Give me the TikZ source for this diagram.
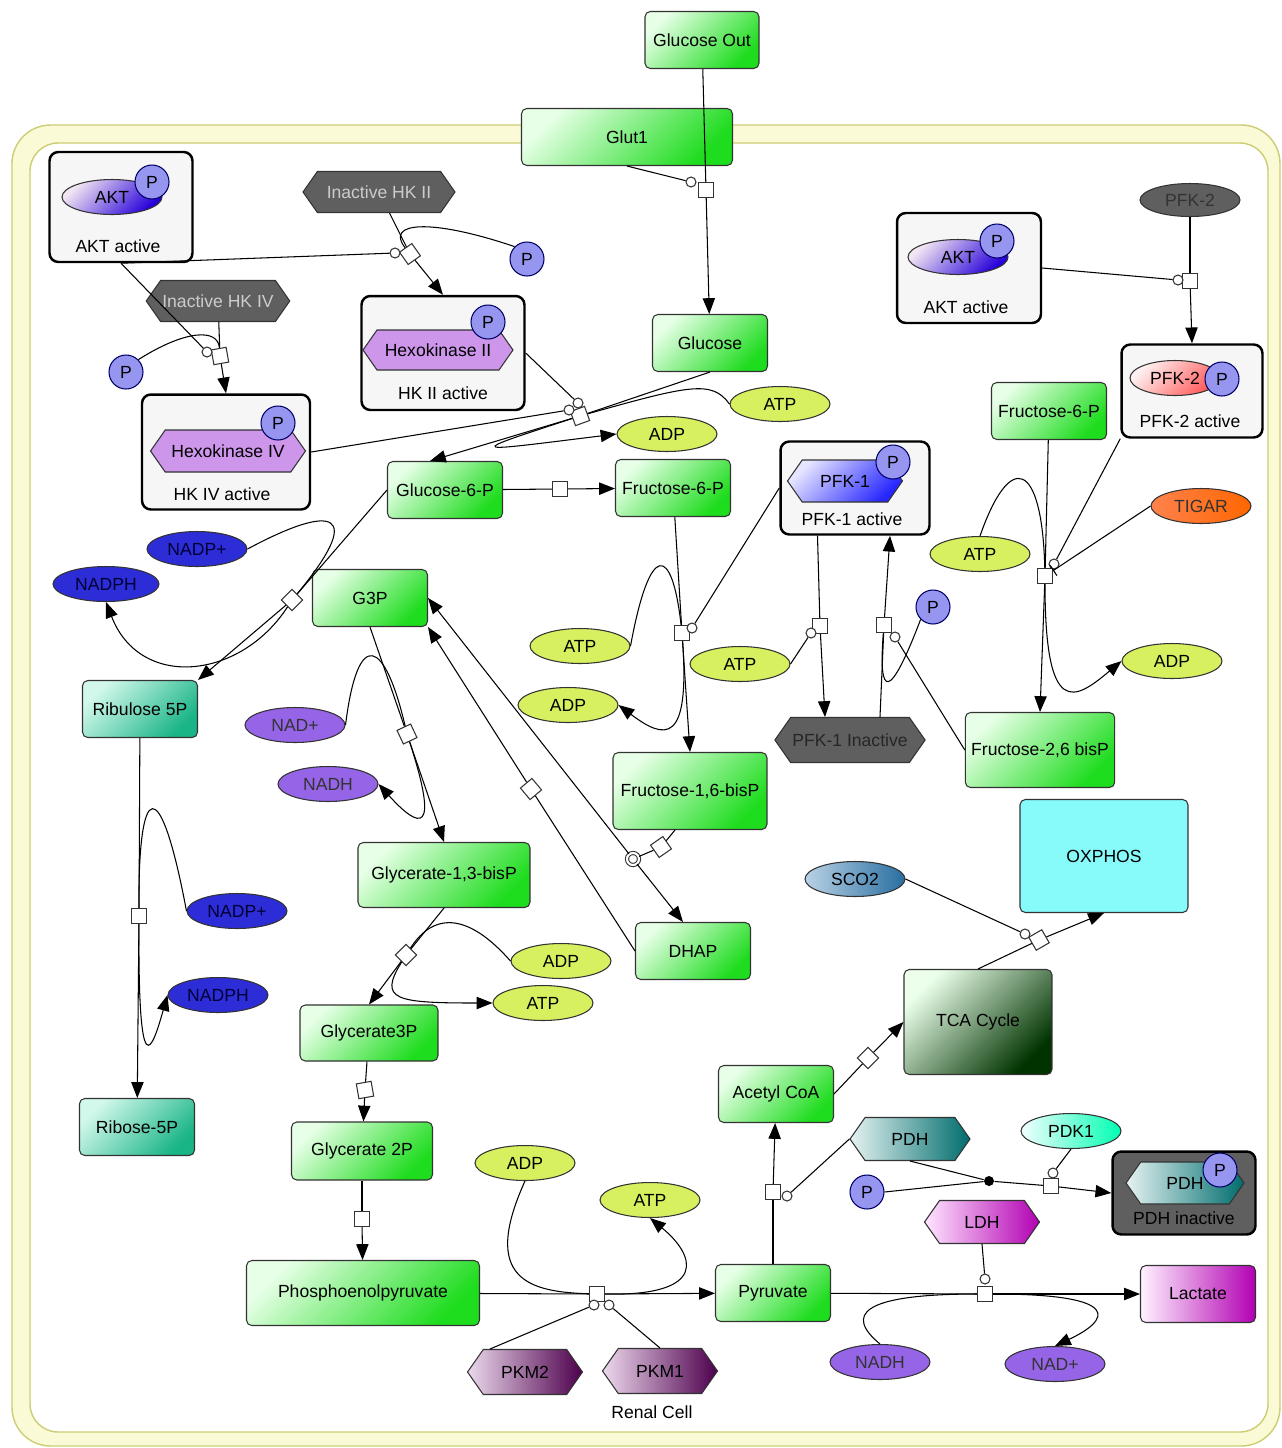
\documentclass[tikz,border=0pt]{standalone}
\usepackage{fontspec}
\setmainfont{Liberation Sans}
\usetikzlibrary{shapes.geometric,shapes.symbols,arrows.meta}

\definecolor{memline}{RGB}{205,205,115}
\definecolor{memfill}{RGB}{250,250,215}
\definecolor{glight}{RGB}{230,255,230}
\definecolor{gdark}{RGB}{30,220,30}
\definecolor{tlight}{RGB}{210,248,235}
\definecolor{tdark}{RGB}{25,180,135}
\definecolor{atpcol}{RGB}{215,240,95}
\definecolor{nadpcol}{RGB}{45,45,215}
\definecolor{nadcol}{RGB}{150,100,230}
\definecolor{pcol}{RGB}{150,150,240}
\definecolor{hkcol}{RGB}{205,150,235}
\definecolor{inact}{RGB}{95,95,95}
\definecolor{cplxcol}{RGB}{246,246,246}
\definecolor{oxcol}{RGB}{135,250,250}
\definecolor{scolight}{RGB}{185,210,230}
\definecolor{scodark}{RGB}{40,110,160}

\tikzset{
  metab/.style={draw=black!80, line width=0.6pt, rounded corners=3pt,
    minimum width=2.3cm, minimum height=1.14cm,
    left color=glight, right color=gdark, shading angle=45},
  tealbox/.style={metab, left color=tlight, right color=tdark, shading angle=45},
  cofac/.style={ellipse, draw=black!80, line width=0.6pt,
    minimum width=2cm, minimum height=0.7cm, inner sep=1pt},
  atpell/.style={cofac, fill=atpcol},
  nadpell/.style={cofac, fill=nadpcol, text=blue!20!black},
  nadell/.style={cofac, fill=nadcol, text=black!80},
  phos/.style={circle, draw=blue!40!black, line width=0.6pt, fill=pcol,
    minimum size=0.68cm, inner sep=0pt},
  rxn/.style={draw=black!80, line width=0.6pt, fill=white, minimum size=0.3cm, inner sep=0pt},
  modc/.style={circle, draw=black!80, line width=0.6pt, fill=white, minimum size=0.2cm, inner sep=0pt},
  cplx/.style={draw, line width=1.4pt, rounded corners=5pt, fill=cplxcol},
  hexa/.style={signal, signal to=west and east, signal pointer angle=110,
    draw=black!80, line width=0.6pt, inner sep=1pt},
  inacthex/.style={hexa, fill=inact, minimum height=0.82cm},
  conv/.style={-{Triangle[length=9pt,width=7pt]}},
  inhib/.style={-{Bar[width=7pt]}},
}

\begin{document}
\begin{tikzpicture}[x=0.02cm, y=-0.02cm, line width=0.6pt,
    font=\fontsize{10}{12}\selectfont]
\useasboundingbox (0,0) rectangle (1282,1448);

% cell membrane
\draw[memline, line width=0.8pt, fill=memfill, rounded corners=22pt] (12,125) rectangle (1280,1446);
\draw[memline, line width=0.8pt, fill=white, rounded corners=16pt] (30,143) rectangle (1268,1432);
\node (cell) at (652,1412) {Renal Cell};

% glucose uptake
\node[metab, minimum width=2.28cm] (glcout) at (702,40) {Glucose Out};
\node[metab, minimum width=4.22cm] (glut) at (627,137) {Glut1};
\node[metab] (glc) at (710,343) {Glucose};
\node[rxn] (rGlut) at (706,190) {};
\node[modc] (mGlut) at (691,182) {};

% hexokinase II
\node[inacthex, minimum width=3.04cm, text=black!20] (hk2i) at (379,192) {Inactive HK II};
\node[phos] (pHK2) at (527,259) {P};
\node[rxn, rotate=35] (rHK2) at (410,254) {};
\node[modc] (mHK2) at (395,253) {};
\node[cplx, minimum width=3.26cm, minimum height=2.28cm] (hk2) at (443,353) {};
\node[hexa, fill=hkcol, minimum width=3cm, minimum height=0.8cm] (hk2h) at (438,350) {Hexokinase II};
\node[phos] (hk2p) at (488,322) {P};
\node (hk2l) at (443,393) {HK II active};

% hexokinase IV
\node[inacthex, minimum width=2.8cm, text=black!20] (hk4i) at (218,301) {Inactive HK IV};
\node[phos] (pHK4) at (126,372) {P};
\node[rxn, rotate=10] (rHK4) at (220,356) {};
\node[modc] (mHK4) at (207,352) {};
\node[cplx, minimum width=3.36cm, minimum height=2.3cm] (hk4) at (226,452) {};
\node[hexa, fill=hkcol, minimum width=3.1cm, minimum height=0.84cm] (hk4h) at (228,451) {Hexokinase IV};
\node[phos] (hk4p) at (278,423) {P};
\node (hk4l) at (222,494) {HK IV active};

% AKT (left)
\node[cplx, minimum width=2.86cm, minimum height=2.2cm] (akt1) at (121,207) {};
\node[cofac, minimum width=2cm, left color=violet!10, right color=blue!70!violet, shading angle=45] (akt1e) at (112,197) {AKT};
\node[phos] (akt1p) at (152,182) {P};
\node (akt1l) at (118,246) {AKT active};

% AKT (right) and PFK-2
\node[cofac, fill=inact, minimum height=0.66cm, text=black!80] (pfk2i) at (1190,200) {PFK-2};
\node[cplx, minimum width=2.88cm, minimum height=2.2cm] (akt2) at (969,268) {};
\node[cofac, left color=violet!10, right color=blue!70!violet, shading angle=45] (akt2e) at (958,257) {AKT};
\node[phos] (akt2p) at (997,241) {P};
\node (akt2l) at (966,307) {AKT active};
\node[rxn] (rPFK2a) at (1190,281) {};
\node[modc] (mPFK2a) at (1178,280) {};
\node[cplx, minimum width=2.82cm, minimum height=1.86cm] (pfk2) at (1192,391) {};
\node[cofac, minimum width=1.8cm, left color=red!5, right color=red!65, shading angle=45] (pfk2e) at (1175,378) {PFK-2};
\node[phos] (pfk2p) at (1222,379) {P};
\node (pfk2l) at (1190,421) {PFK-2 active};

% hexokinase step
\node[atpell] (atp1) at (780,404) {ATP};
\node[atpell] (adp1) at (667,434) {ADP};
\node[rxn, rotate=20] (rHK) at (580,416) {};
\node[modc] (mHKa) at (578,403) {};
\node[modc] (mHKb) at (569,410) {};
\node[metab] (g6p) at (445,490) {Glucose-6-P};
\node[metab] (fru6p) at (673,488) {Fructose-6-P};
\node[rxn] (rPGI) at (560,489) {};

% PFK-1
\node[cplx, minimum width=2.98cm, minimum height=1.86cm] (pfk1) at (855,488) {};
\node[hexa, minimum width=2.3cm, minimum height=0.84cm, left color=blue!10, right color=blue!85, shading angle=45] (pfk1h) at (845,481) {PFK-1};
\node[phos] (pfk1p) at (893,462) {P};
\node (pfk1l) at (852,519) {PFK-1 active};
\node[atpell] (atp2) at (580,646) {ATP};
\node[atpell] (adp2) at (568,705) {ADP};
\node[rxn] (rPFK1) at (682,633) {};
\node[modc] (mPFK1) at (692,628) {};
\node[metab, minimum width=3.08cm, minimum height=1.54cm] (f16bp) at (690,791) {Fructose-1,6-bisP};
\node[inacthex, minimum width=2.9cm, minimum height=0.9cm, text=black!85] (pfk1i) at (850,740) {PFK-1 Inactive};
\node[atpell] (atp2b) at (740,664) {ATP};
\node[rxn] (rPFK1i) at (820,626) {};
\node[modc] (mPFK1i) at (811,633) {};
\node[phos] (pPFK1) at (933,607) {P};
\node[rxn] (rPFK1a) at (884,625) {};
\node[modc] (mPFK1a) at (895,637) {};

% PFK-2 reaction
\node[metab] (fru6pb) at (1049,411) {Fructose-6-P};
\node[cofac, left color=orange!60!red!70, right color=orange!80!red, text=black!80] (tigar) at (1201,506) {TIGAR};
\node[atpell] (atp3) at (980,554) {ATP};
\node[rxn] (rPFK2) at (1045,576) {};
\node[modc] (mPFK2) at (1054,564) {};
\node[atpell] (adp3) at (1172,661) {ADP};
\node[metab, minimum width=2.88cm, minimum height=1.5cm] (f26bp) at (1040,750) {Fructose-2,6 bisP};

% pentose phosphate
\node[nadpell] (nadp1) at (197,549) {NADP+};
\node[nadpell, minimum width=2.12cm] (nadph1) at (106,584) {NADPH};
\node[rxn, rotate=45] (rG6PD) at (292,600) {};
\node[tealbox] (rib5) at (140,709) {Ribulose 5P};
\node[nadpell] (nadp2) at (237,911) {NADP+};
\node[nadpell] (nadph2) at (218,995) {NADPH};
\node[rxn] (rR5P) at (139,916) {};
\node[tealbox] (rib) at (137,1127) {Ribose-5P};

% triose phosphates
\node[metab] (g3p) at (370,598) {G3P};
\node[nadell] (nad1) at (295,725) {NAD+};
\node[nadell] (nadh1) at (328,784) {NADH};
\node[rxn, rotate=25] (rGAPDH) at (407,734) {};
\node[metab, minimum width=3.44cm, minimum height=1.3cm] (g13) at (444,875) {Glycerate-1,3-bisP};
\node[rxn, rotate=40] (rTPI) at (531,789) {};
\node[rxn, rotate=35] (rALD) at (661,847) {};
\node[circle, draw=black!80, double=white, double distance=1.2pt, fill=white, minimum size=0.24cm, inner sep=0pt] (dALD) at (633,859) {};
\node[metab] (dhap) at (693,951) {DHAP};

% lower glycolysis
\node[rxn, rotate=45] (rPGK) at (406,955) {};
\node[atpell] (adp4) at (561,961) {ADP};
\node[atpell] (atp4) at (543,1003) {ATP};
\node[metab, minimum width=2.76cm, minimum height=1.12cm] (g3pa) at (369,1033) {Glycerate3P};
\node[rxn, rotate=10] (rPGM) at (365,1090) {};
\node[metab, minimum width=2.82cm, minimum height=1.16cm] (g2p) at (362,1151) {Glycerate 2P};
\node[rxn] (rENO) at (362,1219) {};
\node[metab, minimum width=4.66cm, minimum height=1.3cm] (pep) at (363,1293) {Phosphoenolpyruvate};
\node[atpell] (adp5) at (525,1163) {ADP};
\node[atpell] (atp5) at (650,1200) {ATP};
\node[rxn] (rPK) at (597,1294) {};
\node[modc] (mPK2) at (594,1305) {};
\node[modc] (mPK1) at (609,1305) {};
\node[hexa, minimum width=2.3cm, minimum height=0.9cm, left color=violet!15, right color=violet!60!black] (pkm2) at (525,1372) {PKM2};
\node[hexa, minimum width=2.3cm, minimum height=0.9cm, left color=magenta!8!violet!15, right color=magenta!30!black] (pkm1) at (660,1371) {PKM1};
\node[metab] (pyr) at (773,1293) {Pyruvate};

% mitochondrial
\node[metab] (acoa) at (776,1094) {Acetyl CoA};
\node[rxn] (rPDH) at (773,1192) {};
\node[modc] (mPDH) at (787,1196) {};
\node[hexa, minimum width=2.4cm, minimum height=0.86cm, left color=teal!10, right color=teal!85!black] (pdh) at (910,1139) {PDH};
\node[draw=black!80, rounded corners=3pt, minimum width=2.96cm, minimum height=2.1cm, left color=green!8!white, right color=green!20!black, shading angle=45] (tca) at (978,1022) {TCA Cycle};
\node[rxn, rotate=45] (rCS) at (868,1058) {};
\node[draw=black!80, rounded corners=3pt, minimum width=3.36cm, minimum height=2.26cm, fill=oxcol] (oxphos) at (1104,856) {OXPHOS};
\node[cofac, left color=scolight, right color=scodark] (sco2) at (855,879) {SCO2};
\node[rxn, rotate=30] (rOX) at (1039,940) {};
\node[modc] (mOX) at (1025,934) {};
\node[cofac, left color=cyan!5, right color=cyan!70!green] (pdk1) at (1071,1131) {PDK1};
\node[phos] (pPDH) at (867,1192) {P};
\node[circle, fill=black, minimum size=0.2cm, inner sep=0pt] (dPDH) at (989,1181) {};
\node[rxn] (rPDK) at (1051,1186) {};
\node[modc] (mPDK) at (1053,1173) {};
\node[cplx, fill=inact, minimum width=2.86cm, minimum height=1.66cm] (pdhi) at (1184,1193) {};
\node[hexa, minimum width=2.36cm, minimum height=0.84cm, left color=teal!10, right color=teal!85!black] (pdhih) at (1185,1183) {PDH};
\node[phos] (pdhip) at (1220,1170) {P};
\node[text=black] (pdhil) at (1184,1218) {PDH inactive};

% lactate
\node[hexa, minimum width=2.3cm, minimum height=0.86cm, left color=magenta!10, right color=magenta!70!black] (ldh) at (982,1222) {LDH};
\node[rxn] (rLDH) at (985,1294) {};
\node[modc] (mLDH) at (985,1279) {};
\node[metab, left color=magenta!5, right color=magenta!70!black] (lac) at (1198,1294) {Lactate};
\node[nadell] (nadh2) at (880,1362) {NADH};
\node[nadell] (nad2) at (1055,1364) {NAD+};

% glucose transport
\draw (glcout) -- (rGlut);
\draw[conv] (rGlut) -- (glc);
\draw (glut.south) -- (mGlut);

% HK activation
\draw (hk2i) -- (rHK2);
\draw[conv] (rHK2) -- (hk2.north);
\draw (pHK2.north west) .. controls (430,218) and (385,222) .. (rHK2);
\draw (akt1.south) -- (mHK2);
\draw (hk4i) -- (rHK4);
\draw[conv] (rHK4) -- (hk4.north);
\draw (pHK4.north east) .. controls (185,330) and (218,328) .. (rHK4);
\draw (akt1.south) -- (mHK4);

% glucose -> G6P
\draw (glc.south) -- (rHK);
\draw[conv] (rHK) -- ([xshift=-0.3cm]g6p.north);
\draw (atp1.west) .. controls (712,380) and (690,385) .. (rHK);
\draw[conv] (rHK) .. controls (460,455) and (470,452) .. (adp1.west);
\draw (hk2.east) -- (mHKa);
\draw (hk4.east) -- (mHKb);
\draw (g6p) -- (rPGI);
\draw[conv] (rPGI) -- (fru6p);

% PPP
\draw (g6p.west) -- (rG6PD);
\draw[conv] (rG6PD) -- (rib5.north east);
\draw (nadp1.east) .. controls (335,502) and (365,512) .. (rG6PD);
\draw[conv] (rG6PD) .. controls (240,680) and (140,690) .. (nadph1.south);
\draw (rib5) -- (rR5P);
\draw[conv] (rR5P) -- (rib);
\draw (nadp2.west) .. controls (160,770) and (138,780) .. (rR5P);
\draw[conv] (rR5P) .. controls (138,1090) and (152,1050) .. (nadph2.west);

% PFK-1
\draw (fru6p) -- (rPFK1);
\draw[conv] (rPFK1) -- (f16bp.north);
\draw (atp2.east) .. controls (650,540) and (672,545) .. (rPFK1);
\draw[conv] (rPFK1) .. controls (690,745) and (665,740) .. (adp2.east);
\draw (pfk1.west) -- (mPFK1);
\draw ([xshift=-0.75cm]pfk1.south) -- (rPFK1i);
\draw[conv] (rPFK1i) -- ([xshift=-0.5cm]pfk1i.north);
\draw (atp2b.east) -- (mPFK1i);
\draw ([xshift=0.6cm]pfk1i.north) -- (rPFK1a);
\draw[conv] (rPFK1a) -- ([xshift=0.7cm]pfk1.south);
\draw (pPFK1.south west) .. controls (890,700) and (878,700) .. (rPFK1a);
\draw (f26bp.west) -- (mPFK1a);

% PFK-2
\draw (pfk2i) -- (rPFK2a);
\draw[conv] (rPFK2a) -- (pfk2.north);
\draw (akt2.east) -- (mPFK2a);
\draw (fru6pb) -- (rPFK2);
\draw[conv] (rPFK2) -- (f26bp.north);
\draw (atp3.north) .. controls (1010,450) and (1042,460) .. (rPFK2);
\draw[conv] (rPFK2) .. controls (1045,720) and (1075,700) .. (adp3.west);
\draw (pfk2.south west) -- (mPFK2);
\draw[inhib] (tigar.west) -- (rPFK2);

% aldolase, TPI
\draw ([xshift=-0.3cm]f16bp.south) -- (rALD);
\draw (rALD) -- (dALD);
\draw[conv] (dALD) -- (g3p.east);
\draw[conv] (dALD) -- ([xshift=-0.2cm]dhap.north);
\draw (dhap.west) -- (rTPI);
\draw[conv] (rTPI) -- (g3p.south east);

% GAPDH, PGK
\draw (g3p.south) -- (rGAPDH);
\draw[conv] (rGAPDH) -- (g13.north);
\draw (nad1.east) .. controls (358,625) and (385,640) .. (rGAPDH);
\draw[conv] (rGAPDH) .. controls (440,835) and (420,830) .. (nadh1.east);
\draw (g13.south) -- (rPGK);
\draw[conv] (rPGK) -- (g3pa.north);
\draw (adp4.west) .. controls (470,915) and (435,910) .. (rPGK);
\draw[conv] (rPGK) .. controls (378,1000) and (395,1003) .. (atp4.west);

% PGM, enolase, PK
\draw (g3pa) -- (rPGM);
\draw[conv] (rPGM) -- (g2p);
\draw (g2p) -- (rENO);
\draw[conv] (rENO) -- (pep);
\draw (pep) -- (rPK);
\draw[conv] (rPK) -- (pyr);
\draw (adp5.south) .. controls (480,1280) and (530,1292) .. (rPK);
\draw[conv] (rPK) .. controls (710,1296) and (695,1255) .. (atp5.south);
\draw ([xshift=-0.7cm]pkm2.north) -- (mPK2);
\draw (pkm1.north) -- (mPK1);

% PDH, TCA
\draw (pyr) -- (rPDH);
\draw[conv] (rPDH) -- (acoa);
\draw (pdh.west) -- (mPDH);
\draw (acoa.east) -- (rCS);
\draw[conv] (rCS) -- (tca.west);
\draw (tca.north) -- (rOX);
\draw[conv] (rOX) -- (oxphos.south);
\draw (sco2.east) -- (mOX);
\draw (pdh.south) -- (dPDH);
\draw (pPDH.east) -- (dPDH);
\draw (dPDH) -- (rPDK);
\draw[conv] (rPDK) -- (pdhi.west);
\draw (pdk1.south) -- (mPDK);

% LDH
\draw (pyr) -- (rLDH);
\draw[conv] (rLDH) -- (lac);
\draw (ldh.south) -- (mLDH);
\draw (nadh2.north) .. controls (845,1315) and (860,1294) .. (rLDH);
\draw[conv] (rLDH) .. controls (1125,1294) and (1110,1320) .. (nad2.north);
\end{tikzpicture}
\end{document}
